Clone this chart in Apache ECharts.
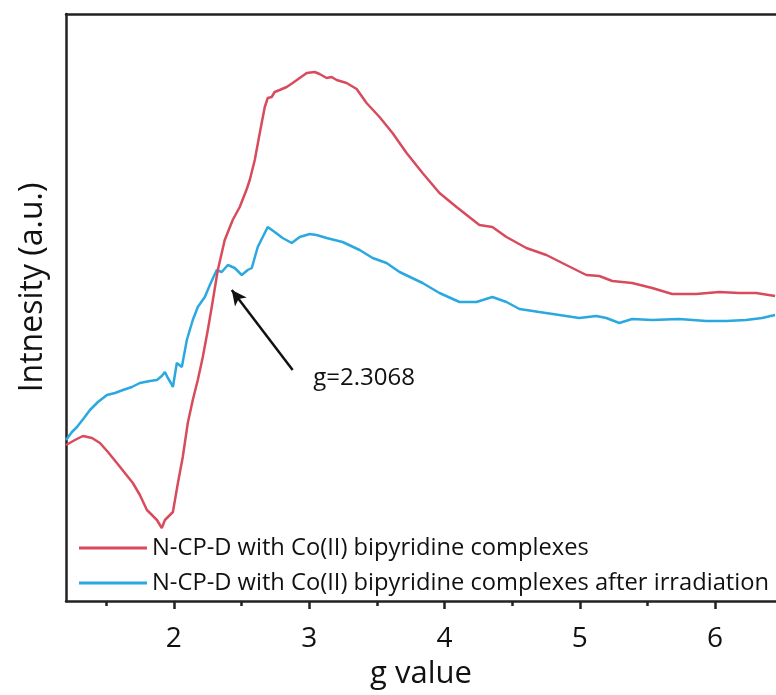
<!DOCTYPE html>
<html>
<head>
<meta charset="utf-8">
<script src="https://cdn.jsdelivr.net/npm/echarts@6/dist/echarts.min.js"></script>
<style>html,body{margin:0;padding:0;background:#fff}#c{width:776px;height:695px}</style>
</head>
<body>
<div id="c"></div>
<script>
const seriesNames = [
  'N-CP-D with Co(II) bipyridine complexes',
  'N-CP-D with Co(II) bipyridine complexes after irradiation'
];
const majorTicks = [2, 3, 4, 5, 6];
const minorTicks = [1.5, 2.5, 3.5, 4.5, 5.5];
const xRange = [1.203, 6.45];
const yRange = [0, 587];

const redG = [1.203,1.269,1.328,1.395,1.454,1.513,1.579,1.638,1.697,1.749,1.801,1.838,1.875,1.897,1.911,1.934,1.956,1.993,2.030,2.066,2.103,2.140,2.177,2.214,2.251,2.280,2.325,2.376,2.435,2.487,2.539,2.561,2.598,2.635,2.672,2.694,2.723,2.745,2.782,2.834,2.878,2.930,2.982,3.041,3.077,3.129,3.166,3.203,3.277,3.351,3.424,3.520,3.616,3.720,3.838,3.963,4.089,4.258,4.354,4.458,4.605,4.753,4.900,5.048,5.144,5.240,5.387,5.535,5.683,5.860,6.030,6.177,6.303,6.443];
const redI = [156,161,165,163,158,149,138,128,118,106,91,86,81,76,73,81,84,89,118,144,178,201,221,244,271,294,331,361,381,394,412,421,441,468,494,503,504,509,511,514,518,523,528,529,527,523,524,521,518,512,498,484,468,448,428,408,394,376,374,364,353,346,336,326,325,320,318,313,307,307,309,308,308,305];

const blueG = [1.203,1.247,1.284,1.336,1.380,1.439,1.506,1.565,1.624,1.690,1.749,1.823,1.875,1.911,1.934,1.956,1.978,1.993,2.022,2.059,2.096,2.140,2.177,2.229,2.266,2.317,2.354,2.399,2.450,2.502,2.546,2.576,2.620,2.657,2.694,2.745,2.804,2.871,2.930,3.004,3.055,3.129,3.247,3.373,3.469,3.572,3.668,3.838,3.963,4.111,4.236,4.354,4.458,4.554,4.701,4.849,4.996,5.122,5.196,5.292,5.387,5.535,5.734,5.934,6.081,6.229,6.347,6.443];
const blueI = [161,169,174,183,191,199,206,208,211,214,218,220,221,225,229,223,218,214,238,234,261,281,294,304,316,331,329,336,333,326,331,333,354,364,374,369,363,358,364,367,366,363,359,351,343,338,329,318,308,299,299,304,299,292,289,286,283,285,283,278,282,281,282,280,280,281,283,286];

const arrowFrom = [2.878, 231];
const arrowTo = [2.428, 311];
const annotText = 'g=2.3068';
const annotAt = [3.03, 223];

const FONT = 'Open Sans';
const zip = (a, b) => a.map((v, i) => [v, b[i]]);

const chart = echarts.init(document.getElementById('c'), null, {renderer: 'canvas'});
chart.setOption({
  animation: false,
  backgroundColor: '#fff',
  textStyle: {fontFamily: FONT},
  grid: {left: 66, right: 0, top: 14, bottom: 94, containLabel: false},
  legend: {
    orient: 'vertical', left: 79, top: 536, padding: 0,
    itemWidth: 68, itemHeight: 3, itemGap: 11,
    icon: 'rect',
    textStyle: {fontFamily: FONT, fontSize: 23.7, color: '#111'},
    data: seriesNames
  },
  xAxis: [
    {
      type: 'value', min: xRange[0], max: xRange[1], position: 'bottom',
      name: 'g value', nameLocation: 'middle', nameGap: 58,
      nameTextStyle: {fontFamily: FONT, fontSize: 31, color: '#111'},
      axisLine: {show: true, lineStyle: {color: '#222', width: 2.5}},
      axisTick: {show: true, inside: false, length: 8, customValues: majorTicks, lineStyle: {color: '#222', width: 2.5}},
      axisLabel: {show: true, margin: 24, customValues: majorTicks, fontFamily: FONT, fontSize: 28, color: '#111'},
      splitLine: {show: false}
    },
    {
      type: 'value', min: xRange[0], max: xRange[1], position: 'bottom',
      axisLine: {show: false},
      axisTick: {show: true, inside: false, length: 5, customValues: minorTicks, lineStyle: {color: '#222', width: 2.5}},
      axisLabel: {show: false},
      splitLine: {show: false}
    },
    {
      type: 'value', min: xRange[0], max: xRange[1], position: 'top',
      axisLine: {show: true, lineStyle: {color: '#222', width: 2.5}},
      axisTick: {show: false}, axisLabel: {show: false}, splitLine: {show: false}
    }
  ],
  yAxis: {
    type: 'value', min: yRange[0], max: yRange[1],
    name: 'Intnesity (a.u.)', nameLocation: 'middle', nameGap: 17,
    nameTextStyle: {fontFamily: FONT, fontSize: 32, color: '#111', padding: [0, 0, 0, 40]},
    axisLine: {show: true, lineStyle: {color: '#222', width: 2.5}},
    axisTick: {show: false}, axisLabel: {show: false}, splitLine: {show: false}
  },
  series: [
    {
      name: seriesNames[0], type: 'line', data: zip(redG, redI),
      showSymbol: false, symbol: 'none', smooth: false, z: 3,
      color: '#d84b5d', lineStyle: {color: '#d84b5d', width: 2.5}
    },
    {
      name: seriesNames[1], type: 'line', data: zip(blueG, blueI),
      showSymbol: false, symbol: 'none', smooth: false, z: 2,
      color: '#2aa8df', lineStyle: {color: '#2aa8df', width: 2.5},
      markLine: {
        silent: true, symbol: ['none', 'arrow'], symbolSize: [11, 15],
        lineStyle: {color: '#111', width: 2.5, type: 'solid'},
        label: {show: false},
        data: [[{coord: arrowFrom}, {coord: arrowTo}]]
      },
      markPoint: {
        silent: true, symbol: 'circle', symbolSize: 0,
        label: {show: true, position: 'right', distance: 0, formatter: annotText, fontFamily: FONT, fontSize: 24, color: '#111'},
        data: [{coord: annotAt}]
      }
    }
  ]
});
</script>
</body>
</html>
